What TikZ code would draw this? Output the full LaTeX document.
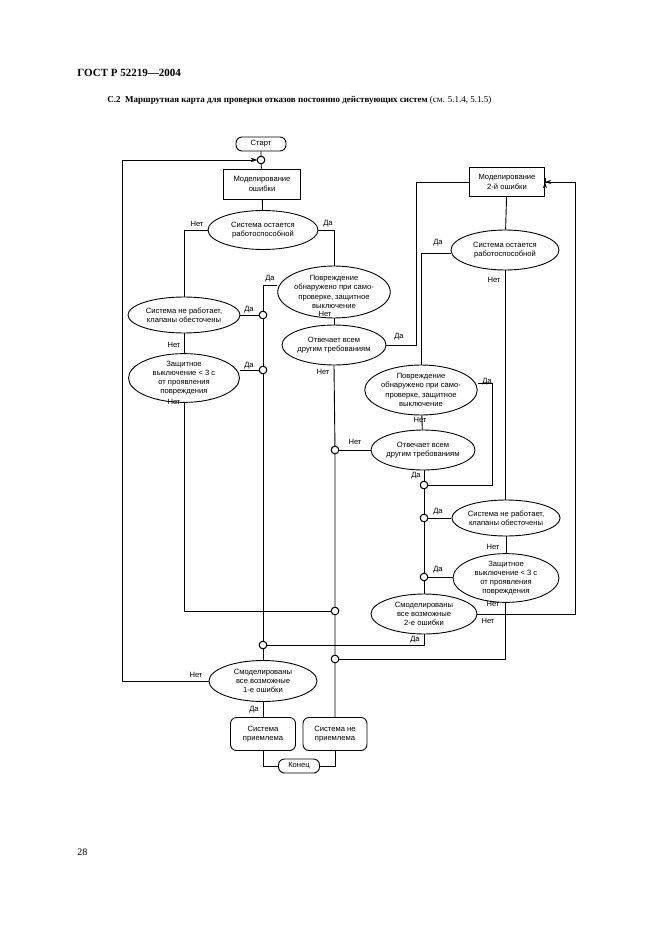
\documentclass[tikz,border=0pt]{standalone}
\usepackage{fontspec}
\setmainfont{Liberation Serif}
\newfontfamily\sansf{Liberation Sans}
\usetikzlibrary{shapes.geometric,arrows.meta}
\begin{document}
\begin{tikzpicture}[x=1pt,y=-1pt,line width=0.9pt,
  every node/.style={font=\sansf\fontsize{7.6}{9.2}\selectfont,align=center,inner sep=0pt},
  ell/.style={draw,ellipse,fill=white},
  box/.style={draw,rectangle,fill=white},
  rbox/.style={draw,rectangle,rounded corners=6pt,fill=white},
  jc/.style={draw,circle,fill=white,minimum size=7.5pt},
  lbl/.style={font=\sansf\fontsize{7.6}{9}\selectfont},
  arr/.style={-{Stealth[length=6pt,width=4pt]}}]
\useasboundingbox (0,0) rectangle (661,936);
\node[font=\fontsize{11}{13}\selectfont\bfseries,anchor=west] (hdr) at (77,73) {ГОСТ Р 52219—2004};
\node[font=\fontsize{9}{11}\selectfont,anchor=west] (cap) at (107,100) {\textbf{С.2\ \ Маршрутная карта для проверки отказов постоянно действующих систем} (см. 5.1.4, 5.1.5)};
\node[font=\fontsize{10}{12}\selectfont,anchor=west] (pg) at (77,852) {28};

% left part
\node[rbox,minimum width=50pt,minimum height=14pt] (start) at (261,144) {Старт};
\node[jc] (j0) at (261,160) {};
\node[box,minimum width=77pt,minimum height=30pt] (m1) at (262,184) {Моделирование\\ошибки};
\node[ell,minimum width=110pt,minimum height=39pt] (e1) at (263,230) {Система остается\\работоспособной};
\node[ell,minimum width=104pt,minimum height=52pt] (e2) at (334,292) {Повреждение\\обнаружено при само-\\проверке, защитное\\выключение};
\node[ell,minimum width=104pt,minimum height=40pt] (e4) at (334,345) {Отвечает всем\\другим требованиям};
\node[ell,minimum width=112pt,minimum height=36pt] (e3) at (184,315) {Система не работает,\\клапаны обесточены};
\node[ell,minimum width=111pt,minimum height=48pt] (e5) at (184,378) {Защитное\\выключение < 3 с\\от проявления\\повреждения};
\node[jc] (ja) at (263,315) {};
\node[jc] (jb) at (263,370) {};
\node[jc] (jc1) at (263,645) {};
\node[jc] (jd) at (335,450) {};
\node[jc] (je) at (335,611) {};
\node[jc] (jf) at (335,659) {};
\node[ell,minimum width=108pt,minimum height=41pt] (f1) at (263,681) {Смоделированы\\все возможные\\1-е ошибки};
\node[rbox,minimum width=65pt,minimum height=33pt] (sa) at (263,734) {Система\\приемлема};
\node[rbox,minimum width=64pt,minimum height=33pt] (sb) at (335,734) {Система не\\приемлема};
\node[rbox,minimum width=41pt,minimum height=14pt] (end) at (299,766) {Конец};

% right part
\node[box,minimum width=75pt,minimum height=29pt] (m2) at (507,182) {Моделирование\\2-й ошибки};
\node[ell,minimum width=108pt,minimum height=40pt] (r1) at (505,250) {Система остается\\работоспособной};
\node[ell,minimum width=97pt,minimum height=50pt] (r2) at (421,390) {Повреждение\\обнаружено при само-\\проверке, защитное\\выключение};
\node[ell,minimum width=104pt,minimum height=40pt] (r3) at (423,450) {Отвечает всем\\другим требованиям};
\node[ell,minimum width=106pt,minimum height=36pt] (r4) at (506,518) {Система не работает,\\клапаны обесточены};
\node[ell,minimum width=106pt,minimum height=46pt] (r5) at (506,578) {Защитное\\выключение < 3 с\\от проявления\\повреждения};
\node[ell,minimum width=106pt,minimum height=40pt] (rf) at (424,614) {Смоделированы\\все возможные\\2-е ошибки};
\node[jc] (jg) at (424,485) {};
\node[jc] (jh) at (424,518) {};
\node[jc] (ji) at (424,577) {};

\coordinate (cL) at (122,681);
\coordinate (cR) at (575,614);

\begin{scope}[on background layer/.style={}]
% left connectors
\draw (start) -- (j0) -- (m1) -- (e1);
\draw (e1.west) -| (e3.north);
\draw (e1.east) -| (e2.north);
\draw (e2) -- (e4);
\draw (e3) -- (e5);
\draw (e3.east) -- (ja);
\draw (e5.east |- jb) -- (jb);
\draw (e2.west |- 0,285) -| (ja.north);
\draw (ja) -- (jb) -- (jc1) -- (f1);
\draw (e5.south) |- (je.west);
\draw (e4.south) -- (jd) -- (je) -- (jf) -- (sb);
\draw (e4.east) -| (416,182) -- (m2.west);
\draw (f1.west) -| (cL |- j0) [arr] -- (j0);
\draw (f1) -- (sa);
\draw (sa.south) |- (end.west);
\draw (sb.south) |- (end.east);
% right connectors
\draw (m2) -- (r1);
\draw (r1.west |- 0,253) -| (r2.north);
\draw (r2) -- (r3);
\draw (r3.west) -- (jd);
\draw (r3.south -| jg) -- (jg);
\draw (r2.east |- 0,383) -| (492,485) -- (jg);
\draw (jg) -- (jh) -- (ji) -- (rf);
\draw (r4.west) -- (jh);
\draw (r5.west |- ji) -- (ji);
\draw (r1.south -| 505,0) -- (r4.north -| 505,0);
\draw (r4) -- (r5);
\draw (r5.south -| 505,0) |- (jf);
\draw (rf.east) -- (cR) |- (m2.east) [arr] -- (m2.east);
\draw (rf.south) |- (jc1);
\end{scope}
\draw[arr] (575,182) -- (m2.east);
\draw[arr] (122,160) -- (j0.west);
% redraw nodes over lines
\foreach \n in {j0,ja,jb,jc1,jd,je,jf,jg,jh,ji} \node[jc] at (\n) {};

% labels
\node[lbl] (l1) at (197,224) {Нет};
\node[lbl] (l2) at (328,224) {Да};
\node[lbl] (l3) at (270,279) {Да};
\node[lbl] (l4) at (325,314) {Нет};
\node[lbl] (l5) at (249,310) {Да};
\node[lbl] (l6) at (174,345) {Нет};
\node[lbl] (l7) at (249,366) {Да};
\node[lbl] (l8) at (174,402) {Нет};
\node[lbl] (l9) at (399,337) {Да};
\node[lbl] (l10) at (323,372) {Нет};
\node[lbl] (l11) at (196,675) {Нет};
\node[lbl] (l12) at (254,710) {Да};
\node[lbl] (l13) at (438,243) {Да};
\node[lbl] (l14) at (494,280) {Нет};
\node[lbl] (l15) at (487,382) {Да};
\node[lbl] (l16) at (420,420) {Нет};
\node[lbl] (l17) at (355,442) {Нет};
\node[lbl] (l18) at (416,476) {Да};
\node[lbl] (l19) at (438,512) {Да};
\node[lbl] (l20) at (493,547) {Нет};
\node[lbl] (l21) at (438,570) {Да};
\node[lbl] (l22) at (493,604) {Нет};
\node[lbl] (l23) at (488,621) {Нет};
\node[lbl] (l24) at (415,640) {Да};
\end{tikzpicture}
\end{document}
